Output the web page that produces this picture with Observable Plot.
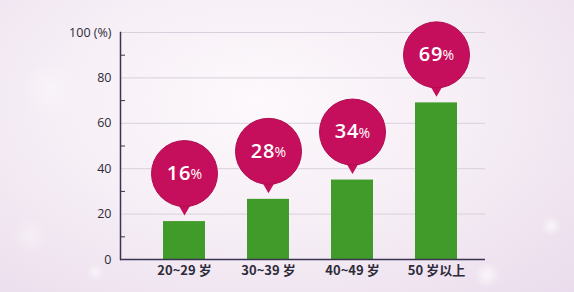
<!DOCTYPE html>
<html>
<head>
<meta charset="utf-8">
<script src="https://cdn.jsdelivr.net/npm/d3@7"></script>
<script src="https://cdn.jsdelivr.net/npm/@observablehq/plot@0.6"></script>
<style>
  html, body { margin: 0; padding: 0; }
  body {
    width: 574px; height: 292px; overflow: hidden;
    background:
      radial-gradient(circle at 487px 275px, rgba(255,255,255,0.7) 0, rgba(255,255,255,0) 13px),
      radial-gradient(circle at 551px 226px, rgba(255,255,255,0.65) 0, rgba(255,255,255,0) 10px),
      radial-gradient(circle at 95px 272px, rgba(255,255,255,0.55) 0, rgba(255,255,255,0) 9px),
      radial-gradient(circle at 30px 235px, rgba(255,255,255,0.35) 0, rgba(255,255,255,0) 18px),
      radial-gradient(circle at 50px 90px, rgba(255,255,255,0.35) 0, rgba(255,255,255,0) 28px),
      radial-gradient(ellipse at 45% 35%, #fdf9fc 0%, #f6eff6 45%, #eadcec 100%);
  }
  #chart svg { display: block; background: transparent; }
  .balloon-num text { letter-spacing: 1px; }
</style>
</head>
<body>
<div id="chart"></div>
<script>
const categories = ["20~29 岁", "30~39 岁", "40~49 岁", "50 岁以上"];
const barValues = [16.7, 26.5, 35, 69];
const balloonLabels = ["16", "28", "34", "69"];
const yTicks = [0, 20, 40, 60, 80, 100];
const yGrid = [20, 40, 60, 80, 100];
const yMinorTicks = [10, 30, 50, 70, 90];

const data = categories.map((c, i) => ({cat: c, value: barValues[i], label: balloonLabels[i]}));

const green = "#419b2b";
const balloon = "#c60f5c";
const axisColor = "#3a3452";

const chart = Plot.plot({
  width: 574,
  height: 292,
  marginLeft: 120,
  marginRight: 89,
  marginTop: 32,
  marginBottom: 33,
  style: {background: "transparent", fontFamily: "'Open Sans', sans-serif", color: "#2e2b3a"},
  x: {domain: categories, paddingInner: 0.5, paddingOuter: 0.4226, align: 0.6, label: null},
  y: {domain: [0, 100], label: null},
  marks: [
    Plot.ruleY(yGrid, {stroke: "#d8d0dc", strokeWidth: 1}),
    Plot.barY(data, {x: "cat", y: "value", fill: green}),
    Plot.axisY(yTicks, {tickSize: 0, tickPadding: 9, fontSize: 12.5, fontWeight: 500, fill: "#2e2b3a",
      fontFamily: "'Open Sans', sans-serif",
      tickFormat: d => d === 100 ? "100 (%)" : String(d)}),
    Plot.axisY(yMinorTicks, {tickSize: 5, dx: 5, text: null, stroke: axisColor}),
    Plot.axisX({tickSize: 0, tickPadding: 6, fontSize: 13, fontWeight: "600",
      fontFamily: "'Noto Sans CJK SC', sans-serif", fill: "#2e2b3a"}),
    Plot.ruleY([0], {stroke: axisColor, strokeWidth: 1.5}),
    Plot.frame({anchor: "left", stroke: axisColor, strokeWidth: 1.5}),
    Plot.dot(data, {x: "cat", y: "value", dy: -13, r: 4.5, symbol: "triangle", rotate: 180, fill: balloon}),
    Plot.dot(data, {x: "cat", y: "value", dy: -48, r: 33, fill: balloon, stroke: "#b00b50", strokeWidth: 1}),
    Plot.text(data, {x: "cat", y: "value", text: "label", dy: -48, dx: 7, textAnchor: "end",
      fill: "white", fontSize: 20, fontWeight: 600, fontFamily: "'Open Sans', sans-serif",
      className: "balloon-num"}),
    Plot.text(data, {x: "cat", y: "value", text: () => "%", dy: -47, dx: 6, textAnchor: "start",
      fill: "white", fontSize: 14, fontWeight: 400, fontFamily: "'Open Sans', sans-serif"})
  ]
});
document.getElementById("chart").append(chart);
</script>
</body>
</html>
